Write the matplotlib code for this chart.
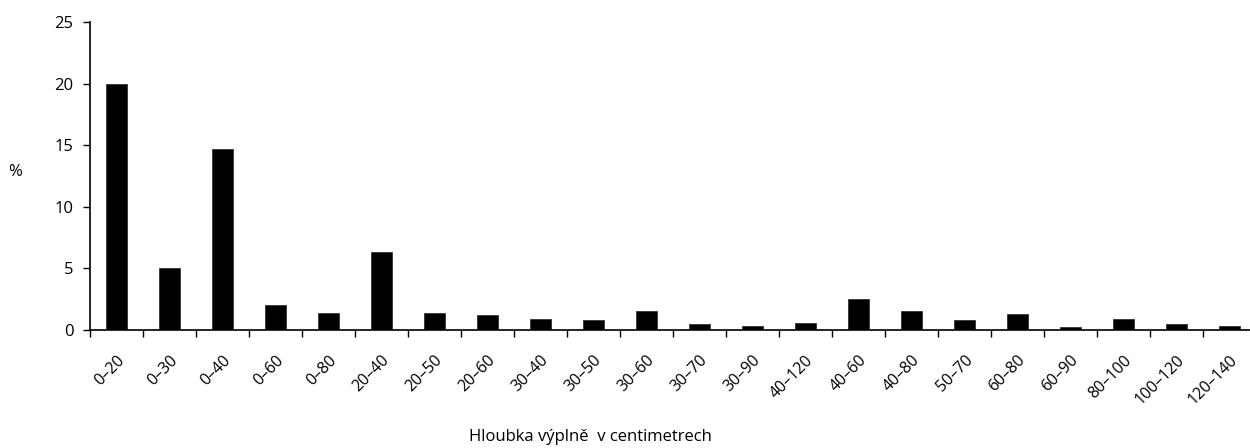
import matplotlib
matplotlib.use("Agg")
import matplotlib.pyplot as plt
import numpy as np

plt.rcParams['font.family'] = ['Open Sans', 'DejaVu Sans']

categories = ["0–20", "0–30", "0–40", "0–60", "0–80", "20–40", "20–50", "20–60",
              "30–40", "30–50", "30–60", "30–70", "30–90", "40–120", "40–60",
              "40–80", "50–70", "60–80", "60–90", "80–100", "100–120", "120–140"]
values = [20.0, 5.0, 14.7, 2.0, 1.4, 6.3, 1.4, 1.2, 0.9, 0.8, 1.55, 0.46, 0.33,
          0.57, 2.5, 1.55, 0.8, 1.27, 0.22, 0.87, 0.49, 0.3]
yticks = [0, 5, 10, 15, 20, 25]

W, H = 1250, 448
fig = plt.figure(figsize=(W/100, H/100), dpi=100)
left, right, top, bottom = 90, 1256, 22, 330
ax = fig.add_axes([left/W, 1 - bottom/H, (right-left)/W, (bottom-top)/H])

x = np.arange(len(categories))
ax.bar(x, values, width=0.4, color='black', edgecolor='#333333', linewidth=0.6)
ax.set_xlim(-0.5, len(categories) - 0.5)
ax.set_ylim(0, 25)
ax.set_yticks(yticks)
ax.tick_params(axis='y', labelsize=12, length=5, width=1, direction='out', pad=7)

ax.set_xticks(x)
ax.set_xticklabels(categories, rotation=45, ha='right', rotation_mode='anchor', fontsize=11.5)
ax.tick_params(axis='x', which='major', length=0, pad=16)
ax.set_xticks(np.arange(len(categories) + 1) - 0.5, minor=True)
ax.tick_params(axis='x', which='minor', length=5, width=1, direction='out')

for s in ['top', 'right']:
    ax.spines[s].set_visible(False)
for s in ['left', 'bottom']:
    ax.spines[s].set_linewidth(1.2)

fig.text(15/W, 1 - 172/H, "%", fontsize=12, ha='center', va='center')
fig.text(590/W, 1 - 437/H, "Hloubka výplně  v centimetrech", fontsize=12, ha='center', va='center')

fig.savefig("out.png", dpi=100)
